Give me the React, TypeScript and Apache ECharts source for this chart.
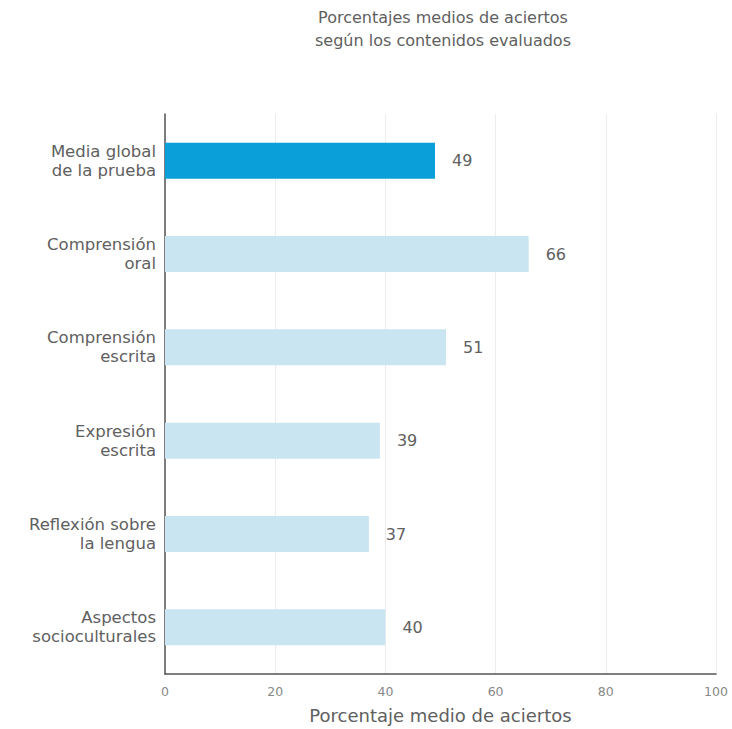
import React, { useEffect, useRef } from "react";
import * as echarts from "echarts";

const categories = [
  "Media global\nde la prueba",
  "Comprensión\noral",
  "Comprensión\nescrita",
  "Expresión\nescrita",
  "Reflexión sobre\nla lengua",
  "Aspectos\nsocioculturales",
];
const values = [49, 66, 51, 39, 37, 40];
const xTicks = [0, 20, 40, 60, 80, 100];
const titleLines = ["Porcentajes medios de aciertos", "según los contenidos evaluados"];
const xAxisTitle = "Porcentaje medio de aciertos";

const FONT = "'DejaVu Sans', sans-serif";
const TEXT = "#606060";

export default function App() {
  const ref = useRef<HTMLDivElement>(null);
  useEffect(() => {
    document.body.style.margin = "0";
    const chart = echarts.init(ref.current!, null, { renderer: "svg" });
    chart.setOption({
      animation: false,
      backgroundColor: "#ffffff",
      textStyle: { fontFamily: FONT },
      graphic: [
        {
          type: "text",
          x: 443,
          y: 6,
          style: {
            text: titleLines.join("\n"),
            fontFamily: FONT,
            fontSize: 16,
            lineHeight: 23,
            fill: TEXT,
            textAlign: "center",
          },
        },
      ],
      grid: { left: 165, right: 16, top: 114, bottom: 55, containLabel: false },
      xAxis: {
        type: "value",
        min: xTicks[0],
        max: xTicks[xTicks.length - 1],
        interval: 20,
        name: xAxisTitle,
        nameLocation: "middle",
        nameGap: 32,
        nameTextStyle: { fontFamily: FONT, fontSize: 18, color: TEXT },
        axisLine: { show: true, lineStyle: { color: "#555", width: 1.5 } },
        axisTick: { show: false },
        axisLabel: { fontFamily: FONT, fontSize: 12.5, color: "#888", margin: 11 },
        splitLine: { show: true, lineStyle: { color: "#ececec", width: 1 } },
      },
      yAxis: {
        type: "category",
        inverse: true,
        data: categories,
        axisLine: { show: true, lineStyle: { color: "#555", width: 1.5 } },
        axisTick: { show: false },
        axisLabel: {
          fontFamily: FONT,
          fontSize: 16.5,
          lineHeight: 19,
          color: TEXT,
          margin: 9,
          align: "right",
        },
        splitLine: { show: false },
      },
      series: [
        {
          type: "bar",
          barWidth: 36,
          data: values.map((v, i) => ({
            value: v,
            itemStyle: { color: i === 0 ? "#0a9fd9" : "#cae5f2" },
          })),
          label: {
            show: true,
            position: "right",
            distance: 17,
            fontFamily: FONT,
            fontSize: 16,
            color: TEXT,
          },
        },
      ],
    });
    return () => chart.dispose();
  }, []);
  return <div ref={ref} style={{ width: 732, height: 729 }} />;
}
